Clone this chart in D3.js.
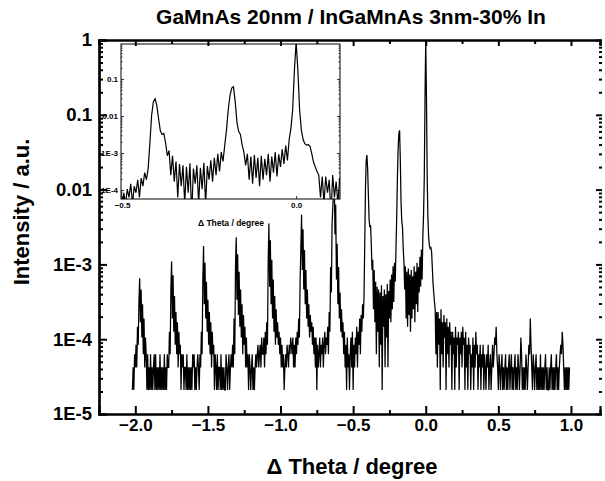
<!DOCTYPE html>
<html>
<head>
<meta charset="utf-8">
<script src="https://cdnjs.cloudflare.com/ajax/libs/d3/7.8.5/d3.min.js"></script>
<style>
  body { margin: 0; background: #fff; }
  svg { font-family: "Liberation Sans", Arial, sans-serif; font-weight: bold; }
</style>
</head>
<body>
<svg id="chart" width="605" height="481"></svg>
<script>
const title = 'GaMnAs 20nm / InGaMnAs 3nm-30% In';
const xTitle = '\u0394 Theta / degree';
const yTitle = 'Intensity / a.u.';

// scan: start angle and step (deg), detector counts
const thetaStart = -2.02;
const thetaStep = 0.005;
const peakCounts = 47600;
const counts = [
  1,2,1,3,2,4,2,7,4,15,31,8,22,5,14,3,9,2,5,3,            // -2.02
  1,3,1,2,1,3,1,2,1,2,3,1,3,1,2,1,2,1,3,1,                // -1.92
  2,1,2,1,3,1,2,1,3,2,2,6,3,22,52,9,34,6,18,4,            // -1.82
  11,3,8,2,6,3,4,1,3,2,3,1,2,2,1,3,1,2,1,2,               // -1.72
  1,2,1,3,2,3,1,2,1,2,3,2,1,3,2,6,3,30,84,14,             // -1.62
  50,9,28,6,16,4,11,3,8,2,6,3,4,1,3,2,1,3,1,2,            // -1.52
  2,1,3,1,2,1,2,1,1,3,2,1,2,3,1,2,3,2,4,2,                // -1.42
  9,3,45,110,16,65,10,38,7,22,5,14,3,10,4,7,2,5,2,3,      // -1.32
  1,3,2,1,2,3,1,2,1,2,3,2,3,4,2,3,4,2,5,3,                // -1.22
  3,5,2,6,3,8,4,50,167,24,100,14,55,9,30,6,18,4,12,5,     // -1.12
  8,4,6,3,5,2,4,2,3,1,2,3,2,4,3,2,4,3,5,4,                // -1.02
  3,5,2,4,2,5,3,6,4,9,5,30,80,219,40,140,22,74,14,40,     // -0.92
  9,22,7,14,5,10,6,8,4,7,3,5,2,5,1,4,2,3,5,2,             // -0.82
  4,3,5,2,4,6,3,5,4,7,3,11,6,44,20,160,280,450,600,120,   // -0.72
  300,30,90,14,44,9,20,6,12,5,8,3,6,2,4,1,5,2,3,1,        // -0.62
  3,5,2,6,1,4,2,5,3,7,2,6,4,9,3,10,6,14,9,18,             // -0.52
  90,500,1160,1380,900,400,190,150,160,90,40,55,12,40,8,28,3,24,6,22, // -0.42
  2,20,4,25,1,18,7,22,2,19,5,26,2,21,9,30,8,35,12,45,     // -0.32
  15,50,28,78,200,700,1700,2700,2950,1160,320,180,150,78,50,22,45,9,38,7, // -0.22
  42,10,35,6,40,9,33,12,45,8,38,14,50,11,44,20,60,24,75,30, // -0.12
  110,220,700,8000,47600,8000,700,200,110,85,78,80,72,45,27,20,15,12,3,11, // -0.02
  2,11,4,9,1,12,3,8,2,10,5,8,1,9,3,7,2,8,4,6,             // 0.08
  1,6,3,5,1,7,2,5,4,6,1,5,3,6,2,7,4,5,1,6,                // 0.18
  2,4,1,5,3,4,1,3,2,5,1,4,2,6,3,4,1,3,2,4,                // 0.28
  1,3,2,4,1,3,2,1,3,2,4,1,2,3,1,2,4,2,3,5,                // 0.38
  4,7,3,2,1,3,2,1,2,3,1,2,1,2,3,1,2,1,2,3,                // 0.48
  1,2,3,1,2,1,2,3,1,2,1,3,2,1,2,5,3,1,2,1,                // 0.58
  2,1,3,2,1,2,4,3,9,4,2,1,3,2,1,2,3,1,2,1,                // 0.68
  2,1,3,1,2,1,2,1,2,3,1,2,1,1,2,1,2,3,1,2,                // 0.78
  1,2,1,2,3,1,2,1,2,3,4,3,6,4,2,1,2,1,2,1,                // 0.88
  2,1,2                                                   // 0.98
];

const xTicks = [-2.0, -1.5, -1.0, -0.5, 0.0, 0.5, 1.0];
const xMinorTicks = [-1.75, -1.25, -0.75, -0.25, 0.25, 0.75];
const yTicks = [1, 0.1, 0.01, 1e-3, 1e-4, 1e-5];
const yTickLabels = ['1', '0.1', '0.01', '1E-3', '1E-4', '1E-5'];
const insetXTicks = [-0.5, 0.0];
const insetYTicks = [0.1, 0.01, 1e-3, 1e-4];
const insetYTickLabels = ['0.1', '0.01', '1E-3', '1E-4'];

const data = counts.map((c, i) => ({theta: thetaStart + i * thetaStep, intensity: c / peakCounts}));

// log minor ticks 2..9 per decade inside a domain
function logMinors(lo, hi) {
  const out = [];
  for (let e = Math.floor(Math.log10(lo)); e < Math.ceil(Math.log10(hi)); e++) {
    for (let k = 2; k <= 9; k++) {
      const v = k * Math.pow(10, e);
      if (v > lo && v < hi) out.push(v);
    }
  }
  return out;
}

const svg = d3.select('#chart');
const x = d3.scaleLinear().domain([-2.25, 1.2]).range([99, 600]);
const y = d3.scaleLog().domain([1e-5, 1]).range([414, 40]);

// main trace
svg.append('path')
  .datum(data)
  .attr('fill', 'none')
  .attr('stroke', '#000')
  .attr('stroke-width', 1.25)
  .attr('d', d3.line().x(d => x(d.theta)).y(d => y(d.intensity)));

// inset
const ix = d3.scaleLinear().domain([-0.503, 0.126]).range([121, 340]);
const iy = d3.scaleLog().domain([5.7e-5, 0.88]).range([199, 44]);
const inset = svg.append('g').attr('class', 'inset');

inset.append('clipPath').attr('id', 'insetClip')
  .append('rect')
  .attr('x', ix.range()[0]).attr('y', iy.range()[1])
  .attr('width', ix.range()[1] - ix.range()[0])
  .attr('height', iy.range()[0] - iy.range()[1]);

inset.append('rect')
  .attr('x', ix.range()[0]).attr('y', iy.range()[1])
  .attr('width', ix.range()[1] - ix.range()[0])
  .attr('height', iy.range()[0] - iy.range()[1])
  .attr('fill', '#fff');

inset.append('path')
  .datum(data.filter(d => d.theta > -0.52 && d.theta < 0.15))
  .attr('clip-path', 'url(#insetClip)')
  .attr('fill', 'none')
  .attr('stroke', '#000')
  .attr('stroke-width', 1.2)
  .attr('d', d3.line().x(d => ix(d.theta)).y(d => iy(d.intensity)));

inset.append('rect')
  .attr('x', ix.range()[0]).attr('y', iy.range()[1])
  .attr('width', ix.range()[1] - ix.range()[0])
  .attr('height', iy.range()[0] - iy.range()[1])
  .attr('fill', 'none')
  .attr('stroke', '#000')
  .attr('stroke-width', 1);

const insetLeft = inset.append('g').attr('transform', `translate(${ix.range()[0]},0)`);
insetLeft.call(d3.axisLeft(iy).tickValues(insetYTicks).tickSize(-3).tickPadding(3)
  .tickFormat((d, i) => insetYTickLabels[i]));
insetLeft.append('g').call(d3.axisLeft(iy).tickValues(logMinors(5.7e-5, 0.88)).tickSize(-1.5).tickFormat(''));
const insetRight = inset.append('g').attr('transform', `translate(${ix.range()[1]},0)`);
insetRight.call(d3.axisRight(iy).tickValues(insetYTicks).tickSize(-3).tickFormat(''));
insetRight.append('g').call(d3.axisRight(iy).tickValues(logMinors(5.7e-5, 0.88)).tickSize(-1.5).tickFormat(''));
const insetBottom = inset.append('g').attr('transform', `translate(0,${iy.range()[0]})`);
insetBottom.call(d3.axisBottom(ix).tickValues(insetXTicks).tickSize(-3).tickPadding(3)
  .tickFormat(d3.format('.1f')));
inset.selectAll('.domain').remove();
inset.selectAll('.tick line').attr('stroke-width', 0.8);
inset.selectAll('.tick text')
  .attr('font-size', 8)
  .attr('font-family', '"Liberation Sans", Arial, sans-serif')
  .attr('font-weight', 'bold');

inset.append('text')
  .attr('x', 231).attr('y', 226)
  .attr('text-anchor', 'middle')
  .attr('font-size', 8.5)
  .text(xTitle);

// main axes, ticks pointing inward
const axes = svg.append('g').attr('class', 'axes');
const axisB = axes.append('g').attr('transform', `translate(0,${y.range()[0]})`);
axisB.call(d3.axisBottom(x).tickValues(xTicks).tickSize(-8).tickPadding(5)
  .tickFormat(d3.format('.1f')));
axisB.append('g').call(d3.axisBottom(x).tickValues(xMinorTicks).tickSize(-4).tickFormat(''));
const axisT = axes.append('g').attr('transform', `translate(0,${y.range()[1]})`);
axisT.call(d3.axisTop(x).tickValues(xTicks).tickSize(-6).tickFormat(''));
axisT.append('g').call(d3.axisTop(x).tickValues(xMinorTicks).tickSize(-4).tickFormat(''));

const axisL = axes.append('g').attr('transform', `translate(${x.range()[0]},0)`);
axisL.call(d3.axisLeft(y).tickValues(yTicks).tickSize(-8).tickPadding(7)
  .tickFormat((d, i) => yTickLabels[i]));
axisL.append('g').call(d3.axisLeft(y).tickValues(logMinors(1e-5, 1)).tickSize(-4).tickFormat(''));
// right side: the spine itself falls outside the picture, only its ticks show
const axisR = axes.append('g').attr('transform', `translate(${x.range()[1] + 2},0)`);
axisR.call(d3.axisRight(y).tickValues(yTicks).tickSize(-6).tickFormat(''));
axisR.append('g').call(d3.axisRight(y).tickValues(logMinors(1e-5, 1)).tickSize(-3).tickFormat(''));
axisR.selectAll('.domain').remove();

axes.selectAll('.domain').attr('stroke-width', 2.2);
axes.selectAll('.tick line').attr('stroke-width', 2);
axes.selectAll('.tick text')
  .attr('font-family', '"Liberation Sans", Arial, sans-serif')
  .attr('font-weight', 'bold')
  .attr('fill', '#000');
axisB.selectAll('.tick text').attr('font-size', 17);
axisL.selectAll('.tick text').attr('font-size', 18.5);

svg.append('text')
  .attr('x', 351).attr('y', 24)
  .attr('text-anchor', 'middle')
  .attr('font-size', 21)
  .text(title);

svg.append('text')
  .attr('x', 352).attr('y', 474)
  .attr('text-anchor', 'middle')
  .attr('font-size', 22)
  .text(xTitle);

svg.append('text')
  .attr('transform', 'translate(29,212) rotate(-90)')
  .attr('text-anchor', 'middle')
  .attr('font-size', 22)
  .text(yTitle);
</script>
</body>
</html>
